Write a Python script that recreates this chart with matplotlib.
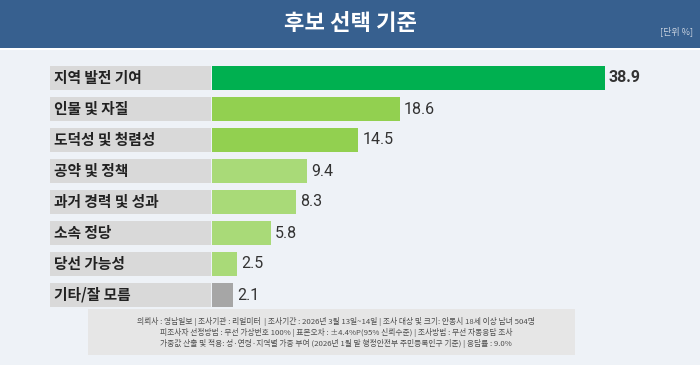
import matplotlib
matplotlib.use('Agg')
import matplotlib.pyplot as plt
from matplotlib.patches import Rectangle

plt.rcParams['font.family'] = ['Noto Sans CJK KR', 'DejaVu Sans']

title = '후보 선택 기준'
unit = '[단위 %]'
categories = ['지역 발전 기여', '인물 및 자질', '도덕성 및 청렴성', '공약 및 정책',
              '과거 경력 및 성과', '소속 정당', '당선 가능성', '기타/잘 모름']
values = [38.9, 18.6, 14.5, 9.4, 8.3, 5.8, 2.5, 2.1]
bar_colors = ['#00b050', '#92d050', '#92d050', '#a9da78', '#a9da78', '#a9da78',
              '#a9da78', '#a6a6a6']
footnote = [
    '의뢰사 : 영남일보 | 조사기관 : 리얼미터  | 조사기간 : 2026년 3월 13일~14일 | 조사 대상 및 크기: 안동시 18세 이상 남녀 504명',
    '피조사자 선정방법 : 무선 가상번호 100% | 표본오차 : ±4.4%P(95% 신뢰수준) | 조사방법 : 무선 자동응답 조사',
    '가중값 산출 및 적용: 성·연령·지역별 가중 부여 (2026년 1월 말 행정안전부 주민등록인구 기준) | 응답률 : 9.0%',
]

W, H = 700, 365
fig = plt.figure(figsize=(7, 3.65), dpi=100)
fig.patch.set_facecolor('#eef2f7')

def fx(px):
    return px / W

def fy(py):
    return 1 - py / H

# header band
fig.patches.append(Rectangle((0, fy(48)), 1, 48 / H, transform=fig.transFigure,
                             facecolor='#37608f', edgecolor='none', zorder=0))
fig.patches.append(Rectangle((0, fy(50)), 1, 2 / H, transform=fig.transFigure,
                             facecolor='white', edgecolor='none', zorder=0))
fig.text(0.5, fy(23), title, color='white', fontsize=16, fontweight='bold',
         ha='center', va='center')
fig.text(fx(693), fy(31), unit, color='#c9d3e0', fontsize=6.5, ha='right', va='center')

# bars: x in percent, origin at pixel 212, ~10.1 px per unit
scale = 10.1
left_px, right_px = 50, 690
top_px, bot_px = 62.5, 310.5
ax = fig.add_axes([fx(left_px), fy(bot_px), fx(right_px - left_px), (bot_px - top_px) / H])
ax.set_xlim(-(212 - left_px) / scale, (right_px - 212) / scale)
ax.set_ylim(len(categories) - 0.5, -0.5)
ax.axis('off')

ypos = list(range(len(categories)))
h = 24 / 31
ax.barh(ypos, [(211 - left_px) / scale] * len(ypos), left=-(212 - left_px) / scale,
        height=h, color='#d9d9d9')
ax.barh(ypos, values, height=h, color=bar_colors)

for i, (cat, v) in enumerate(zip(categories, values)):
    ax.text(-(212 - 54) / scale, i, cat, fontsize=10.6, fontweight='bold',
            color='#222222', va='center', ha='left')
    ax.text(v + 4 / scale, i, f'{v:.1f}', fontsize=11.5,
            fontweight='bold' if i == 0 else 'normal',
            family=['Roboto', 'Noto Sans CJK KR'],
            color='#333333', va='center', ha='left')

# footnote box
fig.patches.append(Rectangle((fx(88), fy(355)), fx(575 - 88), 46 / H,
                             transform=fig.transFigure, facecolor='#e6e6e6',
                             edgecolor='none', zorder=0))
for k, line in enumerate(footnote):
    fig.text(fx(336), fy(322 + 10.5 * k), line, fontsize=5.6, color='#4d4d4d',
             ha='center', va='center')

fig.savefig('out.png', dpi=100, facecolor=fig.get_facecolor())
